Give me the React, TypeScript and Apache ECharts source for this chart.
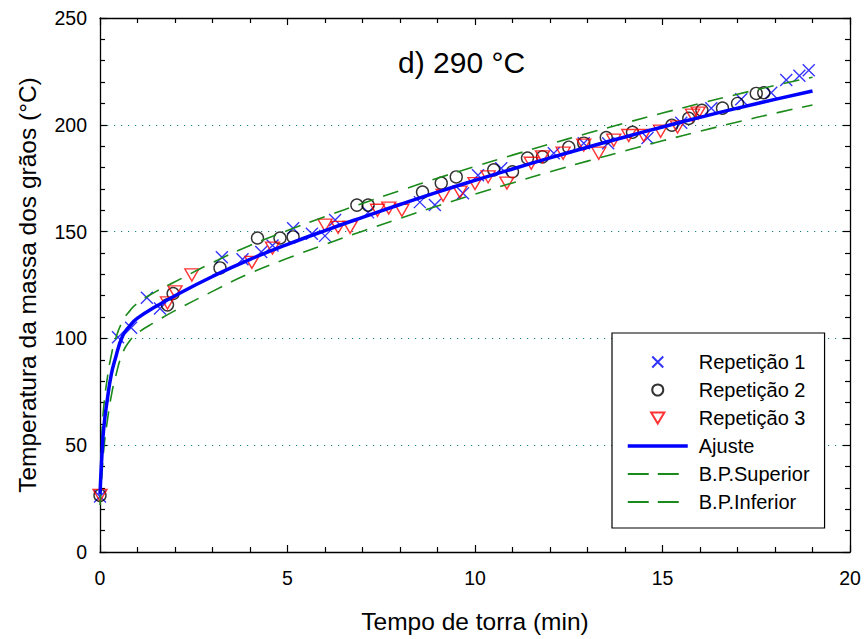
import React, { useEffect, useRef } from "react";
import * as echarts from "echarts";

const rep1T = [0, 0.48, 0.83, 1.25, 1.6, 3.25, 3.8, 4.3, 4.6, 5.15, 5.65, 6.0, 6.27, 7.15, 8.53, 8.93, 9.68, 10.08, 10.7, 12.1, 12.9, 13.55, 14.6, 15.5, 16.3, 17.1, 17.9, 18.3, 18.65, 18.9];
const rep1Y = [26, 100.5, 105, 119, 114, 138, 137, 140.5, 143.5, 151.6, 149, 148, 155.4, 159, 163.8, 162.4, 168, 176.4, 179.7, 186.7, 191.4, 191.4, 193.8, 201, 207.8, 212, 215, 221, 223, 225.5];

const rep2T = [0, 1.8, 1.95, 3.2, 4.2, 4.8, 5.15, 6.85, 7.15, 8.6, 9.1, 9.5, 10.5, 11.0, 11.4, 11.8, 12.5, 12.9, 13.5, 14.2, 15.25, 15.7, 16.05, 16.6, 17.0, 17.5, 17.7];
const rep2Y = [26.5, 115.7, 121, 133, 147, 147, 147.5, 162.4, 162.4, 168.5, 172.7, 175.6, 178.9, 178, 184.4, 185, 189.5, 191.4, 194, 196.5, 199.8, 203, 206.8, 207.8, 210, 214.7, 215];

const rep3T = [0, 1.8, 2.0, 2.45, 4.05, 4.6, 6.0, 6.35, 6.67, 7.4, 7.7, 8.05, 9.15, 9.6, 10.0, 10.35, 10.85, 11.5, 11.8, 12.35, 12.9, 13.3, 13.7, 14.1, 14.5, 14.95, 15.4, 15.8, 15.95];
const rep3Y = [26.5, 116.6, 121.8, 129.7, 135.6, 142.3, 153, 152, 152, 160, 161, 160, 167, 168.5, 172.5, 175.6, 172.7, 182, 185, 186.7, 190.5, 186.7, 192.8, 195, 195, 197, 199, 204.5, 205.5];

const fitT = [0, 0.05, 0.1, 0.2, 0.3, 0.4, 0.6, 0.8, 1.0, 1.5, 2, 3, 4, 5, 6, 7, 8, 9, 10, 11, 12, 13, 14, 15, 16, 17, 18, 19];
const fitY = [27, 45, 58, 72, 83, 90, 101, 106, 109.5, 115, 120, 129, 137, 144, 150.5, 156.7, 162.7, 168.5, 174, 179.3, 184.5, 189.5, 194.3, 199, 203.5, 207.8, 211.9, 215.8];
const upperY = [27, 55, 68, 82, 92, 99, 108, 113, 116.5, 122, 126.5, 135.5, 143.5, 150.5, 157, 163.2, 169.2, 175, 180.5, 185.8, 191, 196, 200.8, 205.5, 210, 214.3, 218.4, 222.3];
const lowerY = [22, 36, 48, 62, 73, 81, 93, 99, 102.5, 108, 113, 122, 130.5, 137.5, 144, 150.2, 156.2, 162, 167.5, 172.8, 178, 183, 187.8, 192.5, 197, 201.3, 205.4, 209.3];

const xTicks = [0, 5, 10, 15, 20];
const yTicks = [0, 50, 100, 150, 200, 250];

const zip = (a: number[], b: number[]) => a.map((v, i) => [v, b[i]]);

const FONT = "Arial, 'Liberation Sans', sans-serif";
const GREEN = "#1a8a1a";
const TEAL = "#1a7f7f";

export default function App() {
  const ref = useRef<HTMLDivElement>(null);
  useEffect(() => {
    if (!ref.current) return;
    const chart = echarts.init(ref.current, null, { renderer: "svg" });
    const axisCommon = {
      axisLine: { show: true, onZero: false, lineStyle: { color: "#000", width: 1.3 } },
      axisTick: { show: true, inside: true, length: 7, lineStyle: { color: "#000", width: 1.2 } },
      minorTick: { show: true, splitNumber: 5, length: 5, lineStyle: { color: "#000", width: 1.2 } },
    };
    const xMin = xTicks[0], xMax = xTicks[xTicks.length - 1], xInt = xTicks[1] - xTicks[0];
    const yMin = yTicks[0], yMax = yTicks[yTicks.length - 1], yInt = yTicks[1] - yTicks[0];
    const hideSym = { opacity: 0 };
    chart.setOption({
      animation: false,
      backgroundColor: "#fff",
      textStyle: { fontFamily: FONT },
      title: {
        text: "d) 290 °C",
        left: 393,
        top: 42,
        textStyle: { fontFamily: FONT, fontSize: 30, fontWeight: "normal", color: "#000" },
      },
      grid: { left: 100, right: 16, top: 18, bottom: 86 },
      legend: {
        orient: "vertical",
        left: 612,
        top: 333,
        padding: [19, 15, 16, 14],
        borderColor: "#000",
        borderWidth: 1.2,
        backgroundColor: "#fff",
        itemWidth: 60,
        itemHeight: 11,
        itemGap: 8,
        textStyle: { fontFamily: FONT, fontSize: 20, color: "#000", padding: [0, 0, 0, 6] },
        data: [
          "Repetição 1",
          "Repetição 2",
          "Repetição 3",
          { name: "Ajuste", itemStyle: hideSym, lineStyle: { width: 3.5, color: "#0000ff" } },
          { name: "B.P.Superior", itemStyle: hideSym, lineStyle: { width: 1.8, color: GREEN, type: [21, 9] } },
          { name: "B.P.Inferior", itemStyle: hideSym, lineStyle: { width: 1.8, color: GREEN, type: [21, 9] } },
        ],
      },
      xAxis: [
        {
          type: "value",
          min: xMin,
          max: xMax,
          interval: xInt,
          position: "bottom",
          name: "Tempo de torra (min)",
          nameLocation: "middle",
          nameGap: 57,
          nameTextStyle: { fontFamily: FONT, fontSize: 24.5, color: "#000" },
          axisLabel: { fontFamily: FONT, fontSize: 19.5, color: "#000", margin: 16 },
          splitLine: { show: false },
          ...axisCommon,
        },
        {
          type: "value",
          min: xMin,
          max: xMax,
          interval: xInt,
          position: "top",
          axisLabel: { show: false },
          splitLine: { show: false },
          ...axisCommon,
        },
      ],
      yAxis: [
        {
          type: "value",
          min: yMin,
          max: yMax,
          interval: yInt,
          position: "left",
          name: "Temperatura da massa dos grãos (°C)",
          nameLocation: "middle",
          nameGap: 60,
          nameTextStyle: { fontFamily: FONT, fontSize: 24.5, color: "#000" },
          axisLabel: { fontFamily: FONT, fontSize: 19.5, color: "#000", margin: 13 },
          splitLine: { show: true, lineStyle: { color: TEAL, width: 1.2, type: [1.2, 5.8] } },
          ...axisCommon,
        },
        {
          type: "value",
          min: yMin,
          max: yMax,
          interval: yInt,
          position: "right",
          axisLabel: { show: false },
          splitLine: { show: false },
          ...axisCommon,
        },
      ],
      series: [
        {
          name: "Repetição 1",
          type: "scatter",
          data: zip(rep1T, rep1Y),
          symbol: "path://M0 0L10 10M10 0L0 10",
          symbolSize: 12,
          itemStyle: { color: "rgba(0,0,0,0)", borderColor: "#0000ff", borderWidth: 1.4 },
          z: 2,
        },
        {
          name: "Repetição 2",
          type: "scatter",
          data: zip(rep2T, rep2Y),
          symbol: "circle",
          symbolSize: 12,
          itemStyle: { color: "rgba(0,0,0,0)", borderColor: "#000", borderWidth: 1.4 },
          z: 2,
        },
        {
          name: "Repetição 3",
          type: "scatter",
          data: zip(rep3T, rep3Y),
          symbol: "path://M0 0L12 0L6 10Z",
          symbolSize: [14, 12],
          itemStyle: { color: "rgba(0,0,0,0)", borderColor: "#ff0000", borderWidth: 1.4 },
          z: 2,
        },
        {
          name: "Ajuste",
          type: "line",
          data: zip(fitT, fitY),
          symbol: "none",
          showSymbol: false,
          smooth: true,
          lineStyle: { color: "#0000ff", width: 3.5 },
          itemStyle: { color: "#0000ff" },
          z: 4,
        },
        {
          name: "B.P.Superior",
          type: "line",
          data: zip(fitT, upperY),
          symbol: "none",
          showSymbol: false,
          smooth: true,
          lineStyle: { color: GREEN, width: 1.6, type: [16, 10] },
          itemStyle: { color: GREEN },
          z: 3,
        },
        {
          name: "B.P.Inferior",
          type: "line",
          data: zip(fitT, lowerY),
          symbol: "none",
          showSymbol: false,
          smooth: true,
          lineStyle: { color: GREEN, width: 1.6, type: [16, 10] },
          itemStyle: { color: GREEN },
          z: 3,
        },
      ],
    });
    return () => chart.dispose();
  }, []);
  return <div ref={ref} style={{ position: "fixed", left: 0, top: 0, width: 866, height: 639 }} />;
}
